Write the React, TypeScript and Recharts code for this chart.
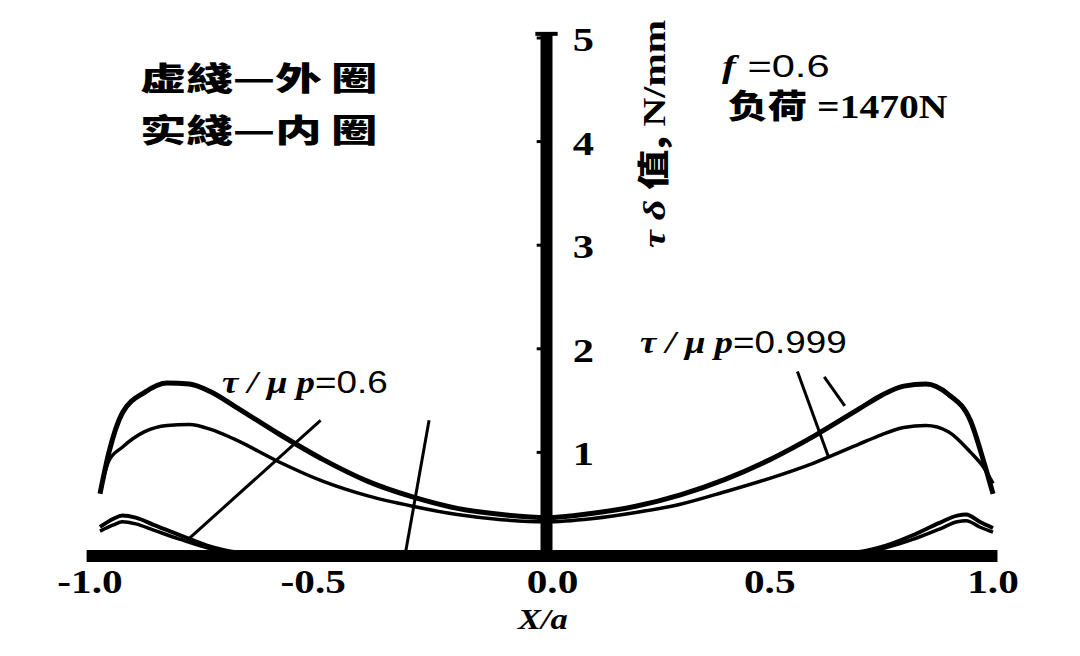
import React from "react";
import { LineChart, Line, XAxis, YAxis, ReferenceLine } from "recharts";

// x/a positions and tau*delta values (N/mm)
const bigX = [-1.0, -0.98, -0.95, -0.9, -0.85, -0.8, -0.75, -0.7, -0.6, -0.5, -0.4, -0.3, -0.2, -0.1, 0, 0.1, 0.2, 0.3, 0.4, 0.5, 0.6, 0.7, 0.75, 0.8, 0.85, 0.9, 0.95, 0.98, 1.0];
const outerBig = [0.6, 1.0, 1.38, 1.58, 1.67, 1.66, 1.58, 1.45, 1.18, 0.93, 0.72, 0.57, 0.46, 0.4, 0.37, 0.41, 0.48, 0.59, 0.74, 0.93, 1.16, 1.42, 1.55, 1.64, 1.66, 1.56, 1.3, 0.9, 0.6];
const innerBig = [0.62, 0.92, 1.05, 1.2, 1.26, 1.27, 1.22, 1.13, 0.91, 0.72, 0.58, 0.48, 0.4, 0.35, 0.33, 0.36, 0.42, 0.5, 0.62, 0.75, 0.9, 1.08, 1.17, 1.24, 1.26, 1.2, 1.0, 0.85, 0.7];

const smallX = [-1.0, -0.97, -0.95, -0.92, -0.88, -0.82, -0.76, -0.7, -0.6, -0.5, 0, 0.5, 0.6, 0.7, 0.76, 0.82, 0.88, 0.92, 0.94, 0.97, 1.0];
const outerSmall = [0.28, 0.36, 0.39, 0.37, 0.3, 0.2, 0.1, 0.04, 0.01, 0, 0, 0, 0.01, 0.04, 0.1, 0.2, 0.32, 0.39, 0.4, 0.33, 0.27];
const innerSmall = [0.24, 0.3, 0.33, 0.31, 0.25, 0.16, 0.08, 0.03, 0, 0, 0, 0, 0, 0.03, 0.08, 0.16, 0.26, 0.33, 0.34, 0.28, 0.23];

const xTicks = [-1.0, -0.5, 0, 0.5, 1.0];
const yTicks = [1, 2, 3, 4, 5];

const toRows = (xs: number[], ys: number[]) => xs.map((x, i) => ({ x, y: ys[i] }));

const serif = "'Liberation Serif', 'DejaVu Serif', serif";
const cjk = "'Noto Sans CJK SC', 'Noto Sans CJK TC', sans-serif";
const sans = "'Liberation Sans', Arial, sans-serif";

function XTick(props: any) {
  const { x, y, payload } = props;
  const v = payload.value as number;
  const label = v.toFixed(1);
  return (
    <g transform={`translate(${x + (v < 0 ? -10 : v === 0 ? 6 : 0)},${y + 29}) scale(1.25,1)`}>
      <text textAnchor="middle" fontFamily={serif} fontWeight="bold" fontSize={33} fill="#000">
        {label}
      </text>
    </g>
  );
}

const txt = (extra: React.CSSProperties): React.CSSProperties => ({
  position: "absolute",
  whiteSpace: "nowrap",
  lineHeight: 1,
  color: "#000",
  transformOrigin: "left top",
  ...extra,
});

export default function App() {
  const lines = [
    { key: "outerBig", data: toRows(bigX, outerBig), w: 5 },
    { key: "innerBig", data: toRows(bigX, innerBig), w: 3.5 },
    { key: "outerSmall", data: toRows(smallX, outerSmall), w: 4 },
    { key: "innerSmall", data: toRows(smallX, innerSmall), w: 3.5 },
  ];

  return (
    <div style={{ position: "absolute", left: 0, top: 0, width: 1080, height: 656, background: "#fff" }}>
      <LineChart width={1080} height={656} margin={{ top: 38, right: 87, bottom: 40, left: 100 }}>
        <XAxis
          type="number"
          dataKey="x"
          domain={[-1, 1]}
          ticks={xTicks}
          axisLine={false}
          tickLine={false}
          height={60}
          tick={<XTick />}
          allowDuplicatedCategory={false}
        />
        <YAxis type="number" dataKey="y" domain={[0, 5]} hide width={0} />

        {/* axes */}
        <ReferenceLine segment={[{ x: -1.03, y: 0 }, { x: 1.01, y: 0 }]} stroke="#000" strokeWidth={12} ifOverflow="visible" />
        <ReferenceLine segment={[{ x: 0, y: 0 }, { x: 0, y: 5.04 }]} stroke="#000" strokeWidth={12} ifOverflow="visible" />
        <ReferenceLine segment={[{ x: -0.025, y: 5.04 }, { x: 0.025, y: 5.04 }]} stroke="#000" strokeWidth={4} ifOverflow="visible" />
        {yTicks.map((v) => (
          <ReferenceLine
            key={v}
            segment={[{ x: -0.022, y: v }, { x: 0, y: v }]}
            stroke="#000"
            strokeWidth={3}
            ifOverflow="visible"
            label={{
              content: ({ viewBox }: any) => (
                <g transform={`translate(${viewBox.x + 36},${viewBox.y + 13}) scale(1.25,1)`}>
                  <text fontFamily={serif} fontWeight="bold" fontSize={34} fill="#000">
                    {v}
                  </text>
                </g>
              ),
            }}
          />
        ))}

        {/* leader lines */}
        <ReferenceLine segment={[{ x: -0.506, y: 1.31 }, { x: -0.8, y: 0.17 }]} stroke="#000" strokeWidth={3} ifOverflow="visible" />
        <ReferenceLine segment={[{ x: -0.263, y: 1.31 }, { x: -0.315, y: 0.05 }]} stroke="#000" strokeWidth={3} ifOverflow="visible" />
        <ReferenceLine segment={[{ x: 0.562, y: 1.78 }, { x: 0.632, y: 0.95 }]} stroke="#000" strokeWidth={3} ifOverflow="visible" />
        <ReferenceLine segment={[{ x: 0.622, y: 1.73 }, { x: 0.668, y: 1.45 }]} stroke="#000" strokeWidth={3} ifOverflow="visible" />

        {lines.map((l) => (
          <Line
            key={l.key}
            data={l.data}
            dataKey="y"
            type="monotone"
            stroke="#000"
            strokeWidth={l.w}
            dot={false}
            isAnimationActive={false}
          />
        ))}
      </LineChart>

      {/* legend text */}
      <div style={txt({ left: 140, top: 60, fontFamily: cjk, fontWeight: 900, fontSize: 32, transform: "scaleX(1.45)" })}>
        虚綫—外&#8201;圈
      </div>
      <div style={txt({ left: 140, top: 112, fontFamily: cjk, fontWeight: 900, fontSize: 32, transform: "scaleX(1.45)" })}>
        实綫—内&#8201;圈
      </div>

      {/* conditions */}
      <div style={txt({ left: 722, top: 50, fontSize: 32, transform: "scaleX(1.3)" })}>
        <span style={{ fontFamily: serif, fontStyle: "italic", fontWeight: "bold" }}>f</span>
        <span style={{ fontFamily: sans }}> =0.6</span>
      </div>
      <div style={txt({ left: 728, top: 88, fontSize: 33, transform: "scaleX(1.2)" })}>
        <span style={{ fontFamily: cjk, fontWeight: 900 }}>负荷</span>
        <span style={{ fontFamily: serif, fontWeight: "bold" }}> =1470N</span>
      </div>

      {/* y axis title */}
      <div
        style={txt({
          left: 635,
          top: 248,
          fontSize: 32,
          fontWeight: "bold",
          transform: "rotate(-90deg) scaleX(1.25)",
        })}
      >
        <span style={{ fontFamily: serif, fontStyle: "italic" }}>τ δ </span>
        <span style={{ fontFamily: cjk, fontWeight: 900 }}>值, </span>
        <span style={{ fontFamily: serif }}>N/mm</span>
      </div>

      {/* curve labels */}
      <div style={txt({ left: 222, top: 366, fontSize: 32, transform: "scaleX(1.15)" })}>
        <span style={{ fontFamily: serif, fontStyle: "italic", fontWeight: "bold" }}>τ / μ p</span>
        <span style={{ fontFamily: sans }}>=0.6</span>
      </div>
      <div style={txt({ left: 640, top: 326, fontSize: 32, transform: "scaleX(1.15)" })}>
        <span style={{ fontFamily: serif, fontStyle: "italic", fontWeight: "bold" }}>τ / μ p</span>
        <span style={{ fontFamily: sans }}>=0.999</span>
      </div>

      {/* x axis title */}
      <div style={txt({ left: 518, top: 604, fontSize: 30, fontFamily: serif, fontStyle: "italic", fontWeight: "bold", transform: "scaleX(1.15)" })}>
        X/a
      </div>
    </div>
  );
}
